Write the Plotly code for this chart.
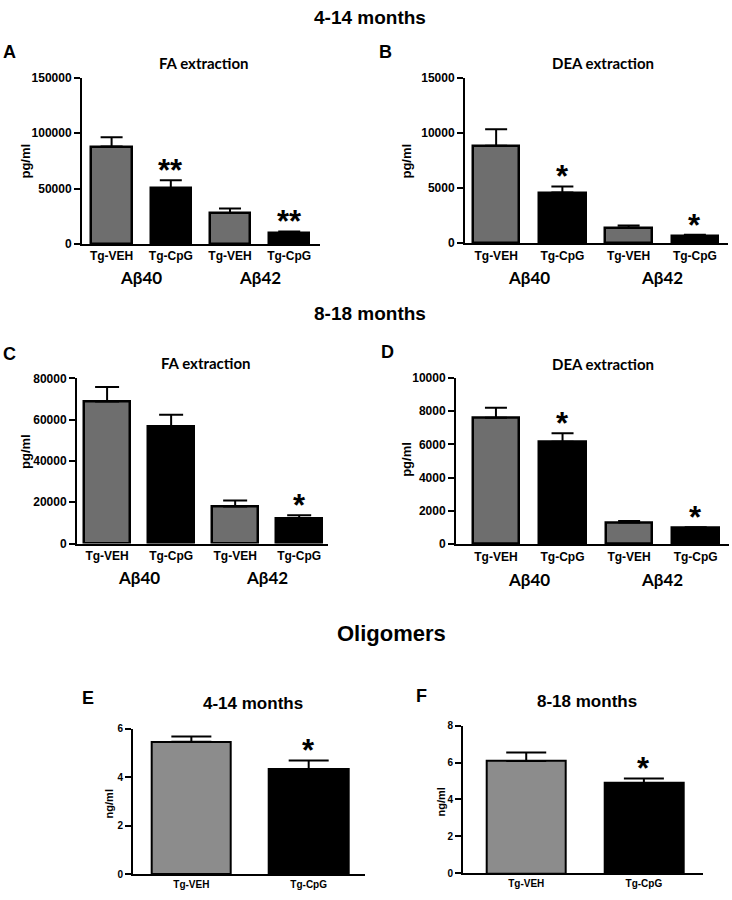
import plotly.graph_objects as go

# ---------------- data ----------------
cats4 = ["Tg-VEH", "Tg-CpG", "Tg-VEH", "Tg-CpG"]
cats2 = ["Tg-VEH", "Tg-CpG"]
peptides = ["Aβ40", "Aβ42"]

a_mean = [88000, 50400, 27900, 10100]
a_err = [8400, 7100, 4100, 1200]
a_sig = ["", "**", "", "**"]

b_mean = [8840, 4615, 1400, 690]
b_err = [1490, 535, 210, 90]
b_sig = ["", "*", "", "*"]

c_mean = [68840, 56900, 17980, 12400]
c_err = [7010, 5450, 2870, 1290]
c_sig = ["", "", "", "*"]

d_mean = [7600, 6154, 1300, 965]
d_err = [607, 516, 100, 60]
d_sig = ["", "*", "", "*"]

e_mean = [5.47, 4.33]
e_err = [0.22, 0.37]
e_sig = ["", "*"]

f_mean = [6.08, 4.89]
f_err = [0.46, 0.25]
f_sig = ["", "*"]

W, H = 732, 900
ARIAL = "Liberation Sans, Arial, sans-serif"
CAL = "Lato, Open Sans, sans-serif"
GRAY_DARK = "#6e6e6e"
GRAY_LIGHT = "#8c8c8c"

panels = [
    dict(mean=a_mean, err=a_err, sig=a_sig, cats=cats4, ymax=150000, dtick=50000,
         xpx=(82, 320), ypx=(240.7, 72), xr=(-0.5, 3.52), bw=0.68, cap=11,
         gray=GRAY_DARK, fs=12, ytitle="pg/ml", yt=(26, 157), lw=2, group=True,
         letter="A", lpos=(9, 46), sub="FA extraction", spos=(204, 57), grp_y=275),
    dict(mean=b_mean, err=b_err, sig=b_sig, cats=cats4, ymax=15000, dtick=5000,
         xpx=(465, 728), ypx=(240, 72), xr=(-0.47, 3.5), bw=0.7, cap=11,
         gray=GRAY_DARK, fs=12, ytitle="pg/ml", yt=(407, 157), lw=2, group=True,
         letter="B", lpos=(385, 46), sub="DEA extraction", spos=(603, 57), grp_y=275),
    dict(mean=c_mean, err=c_err, sig=c_sig, cats=cats4, ymax=80000, dtick=20000,
         xpx=(77, 328), ypx=(545, 377.3), xr=(-0.47, 3.45), bw=0.72, cap=12,
         gray=GRAY_DARK, fs=12, ytitle="pg/ml", yt=(26, 452), lw=2, group=True,
         letter="C", lpos=(9, 352), sub="FA extraction", spos=(206, 362), grp_y=580),
    dict(mean=d_mean, err=d_err, sig=d_sig, cats=cats4, ymax=10000, dtick=2000,
         xpx=(456, 729), ypx=(545.7, 376.7), xr=(-0.6, 3.5), bw=0.7, cap=11,
         gray=GRAY_DARK, fs=12, ytitle="pg/ml", yt=(407, 460), lw=2, group=True,
         letter="D", lpos=(387, 350), sub="DEA extraction", spos=(603, 363), grp_y=582),
    dict(mean=e_mean, err=e_err, sig=e_sig, cats=cats2, ymax=6, dtick=2,
         xpx=(132.7, 365), ypx=(881, 733.3), xr=(-0.5, 1.48), bw=0.675, cap=20,
         gray=GRAY_LIGHT, fs=10, ytitle="ng/ml", yt=(109, 810), lw=1.5, group=False,
         letter="E", lpos=(88, 702), sub="4-14 months", spos=(253, 707), grp_y=None),
    dict(mean=f_mean, err=f_err, sig=f_sig, cats=cats2, ymax=8, dtick=2,
         xpx=(462.7, 702.7), ypx=(880, 730), xr=(-0.54, 1.5), bw=0.67, cap=20,
         gray=GRAY_LIGHT, fs=10, ytitle="ng/ml", yt=(441, 807), lw=1.5, group=False,
         letter="F", lpos=(421, 700), sub="8-18 months", spos=(587, 705), grp_y=None),
]

fig = go.Figure()
annotations = []


def paper_text(x, y, text, family, size, angle=0):
    return dict(x=x / W, y=1 - y / H, xref="paper", yref="paper", text=text,
                showarrow=False, xanchor="center", yanchor="middle", textangle=angle,
                font=dict(family=family, size=size, color="#000000", weight="bold"))


for k, p in enumerate(panels, start=1):
    xa = "x" if k == 1 else f"x{k}"
    ya = "y" if k == 1 else f"y{k}"
    n = len(p["mean"])
    xs = list(range(n))
    colors = [p["gray"] if i % 2 == 0 else "#000000" for i in range(n)]
    fig.add_trace(go.Bar(
        x=xs, y=p["mean"], width=p["bw"], xaxis=xa, yaxis=ya,
        marker=dict(color=colors, line=dict(color="#000000", width=2.5 if p["lw"] == 2 else 2)),
        error_y=dict(type="data", array=p["err"], arrayminus=[0] * n, symmetric=False,
                     color="#000000", thickness=2, width=p["cap"]),
        showlegend=False, hoverinfo="skip",
    ))
    xd = [p["xpx"][0] / W, p["xpx"][1] / W]
    yd = [1 - p["ypx"][0] / H, 1 - p["ypx"][1] / H]
    xkey = "xaxis" if k == 1 else f"xaxis{k}"
    ykey = "yaxis" if k == 1 else f"yaxis{k}"
    fig.update_layout(**{
        xkey: dict(domain=xd, range=list(p["xr"]), anchor=ya, showgrid=False, zeroline=False,
                   showline=True, linecolor="#000000", linewidth=p["lw"], ticks="",
                   tickmode="array", tickvals=xs, ticktext=p["cats"],
                   tickfont=dict(family=ARIAL, size=p["fs"], color="#000000", weight="bold"),
                   fixedrange=True),
        ykey: dict(domain=yd, range=[0, p["ymax"]], anchor=xa, showgrid=False, zeroline=False,
                   showline=True, linecolor="#000000", linewidth=p["lw"], ticks="outside",
                   ticklen=6, tickwidth=p["lw"], tickcolor="#000000", dtick=p["dtick"],
                   tickformat="d",
                   tickfont=dict(family=ARIAL, size=p["fs"], color="#000000", weight="bold"),
                   fixedrange=True),
    })
    # significance stars
    for i in range(n):
        if p["sig"][i]:
            annotations.append(dict(
                x=i, y=p["mean"][i] + p["err"][i], xref=xa, yref=ya, text=p["sig"][i],
                showarrow=False, xanchor="center", yanchor="bottom", yshift=-10,
                font=dict(family=ARIAL, size=31, color="#000000", weight="bold")))
    annotations.append(paper_text(p["yt"][0], p["yt"][1], p["ytitle"], ARIAL,
                                  13 if p["fs"] == 12 else 11, angle=-90))
    annotations.append(paper_text(p["lpos"][0], p["lpos"][1], p["letter"], ARIAL, 18))
    if p["group"]:
        annotations.append(paper_text(p["spos"][0], p["spos"][1], p["sub"], CAL, 15))
        for g, lab in enumerate(peptides):
            annotations.append(dict(
                x=2 * g + 0.5, y=1 - p["grp_y"] / H, xref=xa, yref="paper", text=lab,
                showarrow=False, xanchor="center", yanchor="middle",
                font=dict(family=CAL, size=17, color="#000000", weight="bold")))
    else:
        annotations.append(paper_text(p["spos"][0], p["spos"][1], p["sub"], ARIAL, 17))

# section headers
annotations.append(paper_text(370, 11, "4-14 months", ARIAL, 19))
annotations.append(paper_text(370, 311, "8-18 months", ARIAL, 19))
annotations.append(paper_text(391, 636, "Oligomers", ARIAL, 22))

fig.update_layout(
    width=W, height=H, margin=dict(l=0, r=0, t=0, b=0),
    paper_bgcolor="#ffffff", plot_bgcolor="#ffffff",
    annotations=annotations, bargap=0,
)

fig.write_html("out.html", config={"displayModeBar": False},
               post_script="document.body.style.margin='0px';")
